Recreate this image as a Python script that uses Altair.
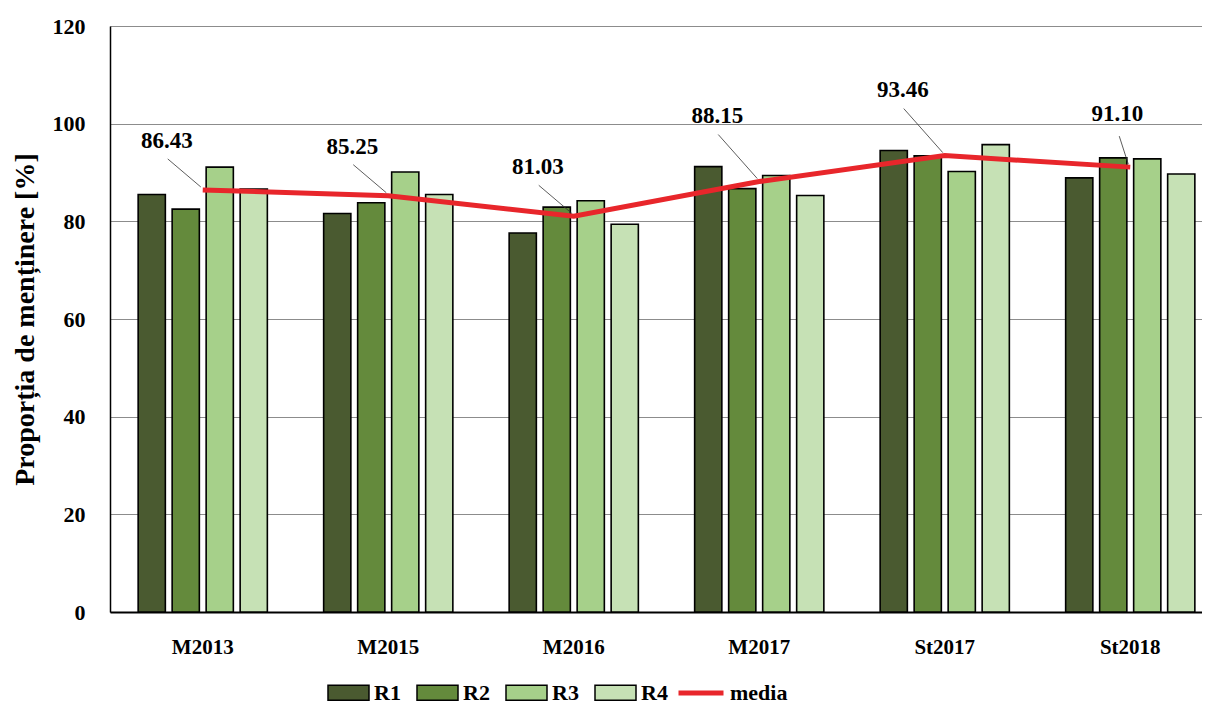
import altair as alt
import pandas as pd

categories = ["M2013", "M2015", "M2016", "M2017", "St2017", "St2018"]
series = ["R1", "R2", "R3", "R4"]
r1 = [85.5, 81.6, 77.6, 91.2, 94.5, 88.9]
r2 = [82.5, 83.8, 82.9, 86.7, 93.4, 93.0]
r3 = [91.1, 90.1, 84.2, 89.4, 90.2, 92.8]
r4 = [86.6, 85.5, 79.4, 85.3, 95.7, 89.7]
media = [86.43, 85.25, 81.03, 88.15, 93.46, 91.10]

bar_colors = ["#4a5a30", "#648a3c", "#a6d08a", "#c6e1b5"]
line_color = "#e8262b"
FONT = "Liberation Serif"

rows = []
for i, c in enumerate(categories):
    for s, vals in zip(series, [r1, r2, r3, r4]):
        rows.append({"cat": c, "rep": s, "val": vals[i]})
bars_df = pd.DataFrame(rows)
line_df = pd.DataFrame({"cat": categories, "media": media, "serie": ["media"] * len(categories)})

x_enc = alt.X("cat:N", sort=categories, title=None,
              scale=alt.Scale(range=[0, 1113], paddingInner=0.3035, paddingOuter=0.15175),
              axis=alt.Axis(labelAngle=0, ticks=False, domainColor="black", domainWidth=2,
                            labelFont=FONT, labelFontWeight="bold", labelFontSize=21,
                            labelColor="black", labelPadding=24, grid=False))
y_enc = alt.Y("val:Q", title="Proporția de menținere [%]",
              scale=alt.Scale(domain=[0, 120], nice=False),
              axis=alt.Axis(values=[0, 20, 40, 60, 80, 100, 120], ticks=False,
                            domainColor="black", domainWidth=1.5,
                            gridColor="#8c8c8c", gridWidth=1,
                            labelFont=FONT, labelFontWeight="bold", labelFontSize=22,
                            labelColor="black", labelPadding=25,
                            titleFont=FONT, titleFontWeight="bold", titleFontSize=28,
                            titleColor="black", titlePadding=13))

bars = alt.Chart(bars_df).mark_bar(stroke="black", strokeWidth=1.6).encode(
    x=x_enc,
    xOffset=alt.XOffset("rep:N", sort=series,
                        scale=alt.Scale(paddingInner=0.2, paddingOuter=0)),
    y=y_enc,
    fill=alt.Fill("rep:N", sort=series,
                  scale=alt.Scale(domain=series, range=bar_colors),
                  legend=alt.Legend(title=None, orient="none", direction="horizontal",
                                    columns=4, legendX=217, legendY=645,
                                    symbolType="M-1,-0.36H1V0.36H-1Z", symbolSize=1681,
                                    symbolStrokeColor="black", symbolStrokeWidth=1.5,
                                    symbolOpacity=1,
                                    labelFont=FONT, labelFontWeight="bold", labelFontSize=22,
                                    labelColor="black", labelOffset=4, columnPadding=13)),
)

line = alt.Chart(line_df).mark_line(strokeWidth=5).encode(
    x=alt.X("cat:N", sort=categories),
    y=alt.Y("media:Q"),
    stroke=alt.Stroke("serie:N", scale=alt.Scale(domain=["media"], range=[line_color]),
                      legend=alt.Legend(title=None, orient="none", legendX=566, legendY=642,
                                        symbolType="stroke", symbolSize=2025,
                                        symbolStrokeWidth=5,
                                        labelFont=FONT, labelFontWeight="bold",
                                        labelFontSize=22, labelColor="black", labelOffset=4)),
)

group_a = ["M2013", "M2015", "M2016"]
group_b = ["M2017", "St2017"]
group_c = ["St2018"]
# (label dx, label dy, leader start dx, leader start dy) per group
offsets = [(group_a, -36, -49, -35, -31), (group_b, -42, -66, -41, -47),
           (group_c, -13, -53, -11, -31)]

layers = [bars, line]
for cats, ldx, ldy, sdx, sdy in offsets:
    sub = line_df[line_df["cat"].isin(cats)]
    layers.append(alt.Chart(sub).mark_rule(color="#333333", strokeWidth=0.8,
                                           xOffset=sdx, yOffset=sdy,
                                           x2Offset=-2, y2Offset=-3).encode(
        x=alt.X("cat:N", sort=categories), x2=alt.X2("cat"),
        y=alt.Y("media:Q"), y2=alt.Y2("media"),
    ))
    layers.append(alt.Chart(sub).mark_text(font=FONT, fontWeight="bold", fontSize=23,
                                           color="black", dx=ldx, dy=ldy,
                                           baseline="middle", align="center").encode(
        x=alt.X("cat:N", sort=categories), y=alt.Y("media:Q"),
        text=alt.Text("media:Q", format=".2f"),
    ))

chart = alt.layer(*layers).resolve_scale(
    fill="independent", stroke="independent"
).properties(
    width=1092, height=586,
    autosize=alt.AutoSizeParams(type="none"),
    padding={"left": 102, "top": 18, "right": 0, "bottom": 93},
).configure_view(stroke=None).configure(background="white")

chart.save("out.html", embed_options={"renderer": "svg", "actions": False})
